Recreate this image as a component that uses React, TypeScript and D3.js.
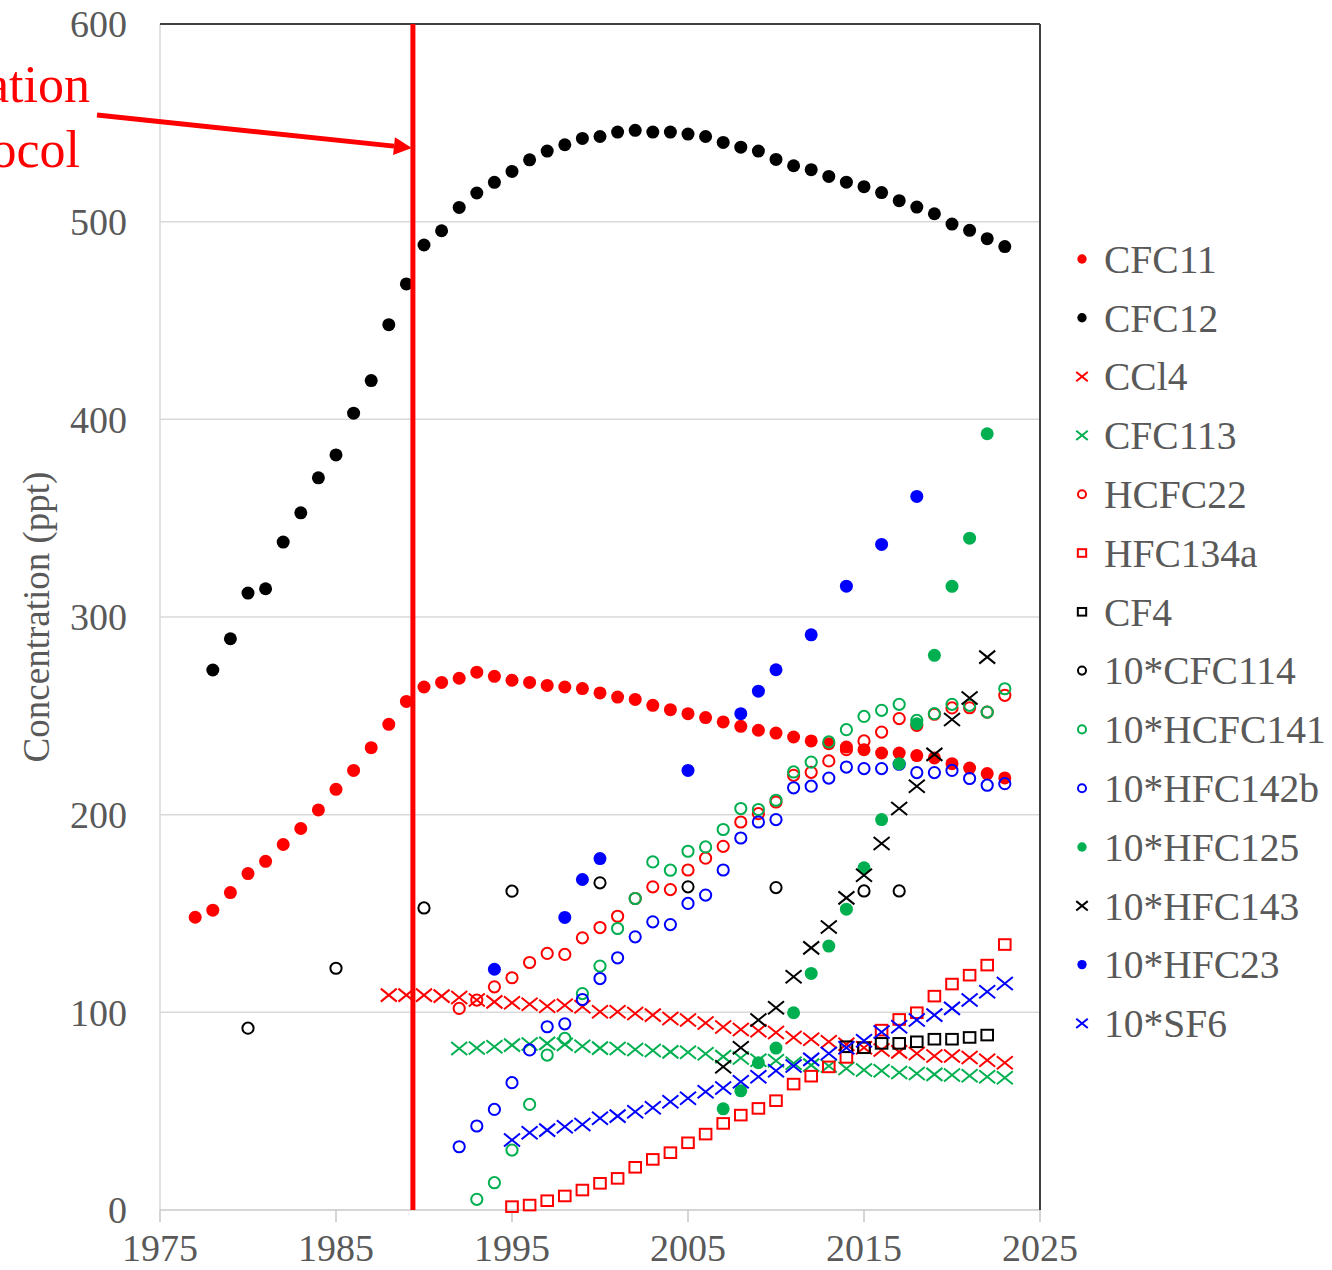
import React from "react";
import * as d3 from "d3";

// Plotted concentrations (ppt); series prefixed "10*" are shown multiplied by ten.
const cfc11Years = d3.range(1977, 2024);
const cfc11 = [148.1, 151.7, 160.6, 170.2, 176.4, 184.9, 193.0, 202.4, 212.8, 222.4, 233.9, 245.7, 257.3, 264.6, 266.9, 269.0, 272.1, 270.0, 268.0, 266.9, 265.4, 264.6, 263.8, 261.6, 259.5, 258.3, 255.3, 253.1, 251.1, 249.1, 246.9, 244.7, 242.7, 241.3, 239.3, 237.3, 235.9, 234.2, 232.9, 231.2, 231.2, 229.9, 228.7, 225.8, 223.6, 220.8, 218.6];

const cfc12Years = d3.range(1978, 2024);
const cfc12 = [273.2, 289.0, 312.1, 314.3, 337.9, 352.7, 370.4, 382.0, 403.1, 419.6, 447.9, 468.5, 488.2, 495.4, 507.2, 514.5, 519.9, 525.4, 531.3, 535.7, 538.9, 542.1, 543.1, 545.3, 546.2, 545.3, 545.3, 544.3, 543.1, 540.1, 537.7, 535.7, 531.5, 528.3, 526.3, 522.9, 520.0, 517.7, 514.7, 510.6, 507.4, 504.0, 498.8, 495.6, 491.4, 487.4];

const ccl4Years = d3.range(1988, 2024);
const ccl4 = [108.7, 108.7, 108.7, 108.2, 107.5, 106.2, 105.3, 104.8, 104.1, 103.1, 103.6, 102.8, 100.3, 100.3, 99.4, 98.6, 96.9, 96.1, 94.6, 92.6, 91.3, 90.7, 89.8, 87.3, 86.4, 85.1, 83.9, 82.1, 80.9, 80.0, 79.2, 77.9, 77.9, 77.2, 75.8, 74.5];

const cfc113Years = d3.range(1992, 2024);
const cfc113 = [81.7, 82.0, 82.6, 83.4, 84.0, 84.3, 83.8, 82.8, 81.9, 81.7, 81.2, 80.7, 80.0, 79.8, 79.0, 77.6, 76.9, 75.8, 75.5, 74.2, 73.3, 72.8, 71.6, 70.8, 70.4, 69.6, 69.1, 68.6, 68.3, 67.9, 67.4, 66.9];

const hcfc22Years = d3.range(1992, 2024);
const hcfc22 = [102.0, 106.2, 112.9, 117.5, 125.2, 129.8, 129.3, 137.7, 142.9, 148.6, 157.6, 163.5, 162.1, 172.0, 178.0, 184.0, 196.3, 200.5, 206.4, 219.9, 221.4, 227.2, 232.9, 237.3, 241.8, 248.6, 245.2, 250.8, 254.0, 254.1, 251.9, 260.4];

const hfc134aYears = d3.range(1995, 2024);
const hfc134a = [1.7, 2.5, 4.7, 7.1, 10.1, 13.5, 16.0, 21.6, 25.6, 29.0, 34.0, 38.4, 43.8, 48.0, 51.4, 55.3, 63.7, 67.7, 72.4, 77.2, 82.1, 91.0, 96.4, 99.8, 108.2, 114.3, 118.8, 123.9, 134.3];

const cf4Years = d3.range(2014, 2023);
const cf4 = [82.6, 82.1, 84.3, 84.3, 85.1, 86.4, 86.4, 87.3, 88.5];

const cfc114Years = [1980, 1985, 1990, 1995, 2000, 2005, 2010, 2015, 2017];
const cfc114x10 = [92.0, 122.3, 152.8, 161.3, 165.5, 163.5, 163.1, 161.4, 161.4];

const hcfc141Years = d3.range(1993, 2024);
const hcfc141x10 = [5.4, 13.8, 30.3, 53.4, 78.4, 86.8, 109.5, 123.4, 142.4, 157.6, 176.1, 171.9, 181.5, 183.7, 192.5, 203.1, 202.6, 207.3, 221.6, 226.6, 236.8, 243.0, 249.7, 252.8, 255.8, 247.7, 251.1, 255.8, 255.3, 251.9, 263.7];

const hfc142bYears = d3.range(1992, 2024);
const hfc142bx10 = [32.0, 42.5, 50.9, 64.4, 81.0, 92.7, 94.2, 106.5, 117.1, 127.6, 138.2, 145.8, 144.4, 155.1, 159.3, 172.0, 188.2, 196.3, 197.5, 213.6, 214.4, 218.5, 224.1, 223.3, 223.3, 225.5, 221.3, 221.3, 222.4, 218.3, 214.9, 215.7];

const hfc125Years = d3.range(2007, 2023);
const hfc125x10 = [51.2, 60.3, 74.5, 81.9, 99.8, 119.7, 133.5, 152.2, 173.1, 197.5, 225.8, 246.0, 280.6, 315.5, 339.9, 392.7];

const hfc143Years = d3.range(2007, 2023);
const hfc143x10 = [72.5, 82.1, 96.1, 102.3, 118.0, 132.6, 143.2, 157.9, 169.4, 185.4, 203.1, 214.4, 230.5, 248.1, 259.0, 279.7];

const hfc23Years = [1994, 1998, 1999, 2000, 2005, 2008, 2009, 2010, 2012, 2014, 2016, 2018];
const hfc23x10 = [121.8, 148.0, 167.2, 177.8, 222.4, 251.1, 262.5, 273.3, 291.0, 315.6, 336.7, 361.0];

const sf6Years = d3.range(1995, 2024);
const sf6x10 = [35.4, 39.1, 40.4, 42.1, 43.3, 46.4, 47.5, 49.7, 51.7, 54.8, 56.5, 59.8, 61.7, 64.9, 67.4, 70.4, 72.8, 76.2, 79.2, 82.1, 85.6, 90.1, 92.7, 96.1, 98.6, 102.0, 106.2, 110.4, 114.6];

const xTicks = [1975, 1985, 1995, 2005, 2015, 2025];
const yTicks = [0, 100, 200, 300, 400, 500, 600];
const protocolYear = 1989.37;

type Shape = "dot" | "circle" | "x" | "square";
interface Series {
  name: string;
  years: number[];
  values: number[];
  color: string;
  shape: Shape;
}

const RED = "#ff0000";
const BLACK = "#000000";
const GREEN = "#00b050";
const BLUE = "#0000ff";

const series: Series[] = [
  { name: "CFC11", years: cfc11Years, values: cfc11, color: RED, shape: "dot" },
  { name: "CFC12", years: cfc12Years, values: cfc12, color: BLACK, shape: "dot" },
  { name: "CCl4", years: ccl4Years, values: ccl4, color: RED, shape: "x" },
  { name: "CFC113", years: cfc113Years, values: cfc113, color: GREEN, shape: "x" },
  { name: "HCFC22", years: hcfc22Years, values: hcfc22, color: RED, shape: "circle" },
  { name: "HFC134a", years: hfc134aYears, values: hfc134a, color: RED, shape: "square" },
  { name: "CF4", years: cf4Years, values: cf4, color: BLACK, shape: "square" },
  { name: "10*CFC114", years: cfc114Years, values: cfc114x10, color: BLACK, shape: "circle" },
  { name: "10*HCFC141", years: hcfc141Years, values: hcfc141x10, color: GREEN, shape: "circle" },
  { name: "10*HFC142b", years: hfc142bYears, values: hfc142bx10, color: BLUE, shape: "circle" },
  { name: "10*HFC125", years: hfc125Years, values: hfc125x10, color: GREEN, shape: "dot" },
  { name: "10*HFC143", years: hfc143Years, values: hfc143x10, color: BLACK, shape: "x" },
  { name: "10*HFC23", years: hfc23Years, values: hfc23x10, color: BLUE, shape: "dot" },
  { name: "10*SF6", years: sf6Years, values: sf6x10, color: BLUE, shape: "x" },
];

const W = 1332;
const H = 1270;
const left = 160;
const right = 1040;
const top = 24;
const bottom = 1210;

const x = d3.scaleLinear().domain([1975, 2025]).range([left, right]);
const y = d3.scaleLinear().domain([0, 600]).range([bottom, top]);

const FONT = "'Liberation Serif', 'Times New Roman', serif";
const TEXT_GRAY = "#595959";

function Marker({ shape, color, cx, cy, s = 1 }: { shape: Shape; color: string; cx: number; cy: number; s?: number }) {
  if (shape === "dot") return <circle cx={cx} cy={cy} r={6.5 * s} fill={color} />;
  if (shape === "circle")
    return <circle cx={cx} cy={cy} r={5.6 * s} fill="none" stroke={color} strokeWidth={2} />;
  if (shape === "square")
    return (
      <rect x={cx - 5.8 * s} y={cy - 5.3 * s} width={11.6 * s} height={10.6 * s} fill="none" stroke={color} strokeWidth={2} />
    );
  const hw = 8 * s;
  const hh = 6.5 * s;
  return (
    <path
      d={`M${cx - hw},${cy - hh}L${cx + hw},${cy + hh}M${cx - hw},${cy + hh}L${cx + hw},${cy - hh}`}
      stroke={color}
      strokeWidth={2}
      fill="none"
    />
  );
}

export default function App() {
  const px = x(protocolYear);
  const arrowStart: [number, number] = [97, 115];
  const arrowTip: [number, number] = [px - 1, 148];
  const ang = Math.atan2(arrowTip[1] - arrowStart[1], arrowTip[0] - arrowStart[0]);
  const headLen = 18;
  const headHalf = 9;
  const bx = arrowTip[0] - headLen * Math.cos(ang);
  const by = arrowTip[1] - headLen * Math.sin(ang);
  const nx = -Math.sin(ang);
  const ny = Math.cos(ang);
  const head = `M${arrowTip[0]},${arrowTip[1]}L${bx + nx * headHalf},${by + ny * headHalf}L${bx - nx * headHalf},${by - ny * headHalf}Z`;

  return (
    <svg
      width={W}
      height={H}
      style={{ position: "absolute", left: 0, top: 0, background: "#ffffff" }}
      fontFamily={FONT}
    >
      {/* horizontal gridlines */}
      {yTicks.slice(1, -1).map((t) => (
        <line key={t} x1={left} x2={right} y1={y(t)} y2={y(t)} stroke="#d9d9d9" strokeWidth={1.5} />
      ))}
      {/* left edge and bottom axis */}
      <line x1={left} x2={left} y1={top} y2={bottom} stroke="#d9d9d9" strokeWidth={1.5} />
      <line x1={left} x2={right} y1={bottom} y2={bottom} stroke="#c8c8c8" strokeWidth={1.5} />
      {xTicks.map((t) => (
        <line key={t} x1={x(t)} x2={x(t)} y1={bottom} y2={bottom + 12} stroke="#c8c8c8" strokeWidth={1.5} />
      ))}
      {/* top and right frame */}
      <line x1={left} x2={right} y1={top} y2={top} stroke="#404040" strokeWidth={2} />
      <line x1={right} x2={right} y1={top} y2={bottom} stroke="#404040" strokeWidth={2} />

      {/* tick labels */}
      {yTicks.map((t) => (
        <text key={t} x={127} y={y(t)} dy="0.35em" textAnchor="end" fontSize={38} fill={TEXT_GRAY}>
          {t}
        </text>
      ))}
      {xTicks.map((t) => (
        <text key={t} x={x(t)} y={1261} textAnchor="middle" fontSize={38} fill={TEXT_GRAY}>
          {t}
        </text>
      ))}
      <text
        transform={`translate(36,${(top + bottom) / 2}) rotate(-90)`}
        textAnchor="middle"
        dy="0.35em"
        fontSize={37}
        fill={TEXT_GRAY}
      >
        Concentration (ppt)
      </text>

      {/* data */}
      {series.map((s) => (
        <g key={s.name}>
          {s.values.map((v, i) => (
            <Marker key={i} shape={s.shape} color={s.color} cx={x(s.years[i])} cy={y(v)} />
          ))}
        </g>
      ))}

      {/* protocol marker */}
      <line x1={px} x2={px} y1={top} y2={bottom} stroke="#ff0000" strokeWidth={5} />
      <line x1={arrowStart[0]} y1={arrowStart[1]} x2={bx} y2={by} stroke="#ff0000" strokeWidth={5} />
      <path d={head} fill="#ff0000" />
      <text x={90} y={102} textAnchor="end" fontSize={52} fill="#ff0000">
        ation
      </text>
      <text x={80} y={167} textAnchor="end" fontSize={52} fill="#ff0000">
        ocol
      </text>

      {/* legend */}
      {series.map((s, i) => {
        const ly = 259 + i * 58.8;
        return (
          <g key={s.name}>
            <Marker shape={s.shape} color={s.color} cx={1082} cy={ly} s={0.72} />
            <text x={1104} y={ly} dy="0.35em" fontSize={39.5} fill={TEXT_GRAY}>
              {s.name}
            </text>
          </g>
        );
      })}
    </svg>
  );
}
